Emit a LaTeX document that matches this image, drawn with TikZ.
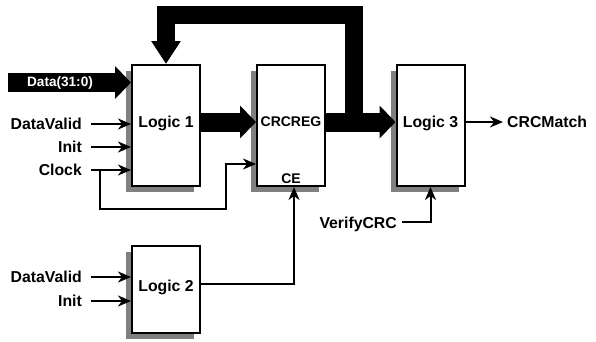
\documentclass[tikz,border=0pt]{standalone}
\usepackage{fontspec}
\setmainfont{Liberation Sans}
\usetikzlibrary{arrows.meta,shadows,positioning}
\tikzstyle{every node}=[font=\bfseries\fontsize{15.8}{18}\selectfont]
\tikzstyle{block}=[draw=black,line width=2pt,fill=white,minimum width=68pt,minimum height=121pt,
  inner sep=0pt,text depth=7pt,drop shadow={shadow xshift=-6pt,shadow yshift=-6pt,fill=black!50,opacity=1}]
\tikzstyle{sig}=[line width=2pt,-{Stealth[length=13pt,width=11pt,inset=4pt]}]
\tikzstyle{bus}=[line width=19pt,-{Triangle[length=16pt,width=32pt]}]
\tikzstyle{pin}=[inner sep=0pt,anchor=east]
\tikzstyle{small}=[font=\bfseries\fontsize{14}{16}\selectfont]

\begin{document}
\begin{tikzpicture}[x=1pt,y=-1pt]
  \useasboundingbox (0,0) rectangle (596,341);
  % blocks
  \node[block] (logic1) at (166,125.5) {Logic 1};
  \node[block,small] (crcreg) at (291,125.5) {CRCREG};
  \node[block] (logic3) at (430.5,125.5) {Logic 3};
  \node[block,minimum height=87pt] (logic2) at (166,289.5) {Logic 2};
  \node[small,inner sep=0pt,above=3pt of crcreg.south] (ce) {CE};

  % data path
  \coordinate (datain) at (8,82.5);
  \draw[bus] (datain) -- (datain -| logic1.west);
  \node[text=white,font=\bfseries\fontsize{13.6}{15}\selectfont] (data) at (60,82.5) {Data(31:0)};
  \draw[bus] ([yshift=3.5pt]logic1.east) -- ([yshift=3.5pt]crcreg.west);
  \draw[bus] ([yshift=3.5pt]crcreg.east) -- ([yshift=3.5pt]logic3.west);
  \coordinate (fb) at ([yshift=3.5pt,xshift=28pt]crcreg.east);
  \draw[bus,line width=18pt,-{Triangle[length=23pt,width=28pt]}]
    (fb) -- (fb |- 0,14.5) -| (logic1.north);

  % control inputs
  \node[pin] (dv1) at (82,124) {DataValid};
  \node[pin] (init1) at (82,147) {Init};
  \node[pin] (clk) at (82,170) {Clock};
  \foreach \n in {dv1,init1,clk}
    \draw[sig,shorten <=9pt] (\n.east) -- (\n -| logic1.west);
  \coordinate (ckjoin) at ([xshift=18pt]clk.east);
  \coordinate (ckin) at ([yshift=-38.5pt]crcreg.west);
  \draw[sig] (ckjoin) |- ++(126,39) |- (ckin);

  \node[pin] (dv2) at (82,277) {DataValid};
  \node[pin] (init2) at (82,301) {Init};
  \foreach \n in {dv2,init2}
    \draw[sig,shorten <=9pt] (\n.east) -- (\n -| logic2.west);
  \draw[sig] ([yshift=6pt]logic2.east) -| ([xshift=3pt]crcreg.south);

  \node[pin] (vcrc) at (397,224.5) {VerifyCRC};
  \draw[sig,shorten <=5pt] ([yshift=2.5pt]vcrc.east) -| (logic3.south);

  \node[pin,anchor=west] (match) at (507,122) {CRCMatch};
  \draw[sig,shorten >=4pt] (logic3.east |- match) -- (match.west);
\end{tikzpicture}
\end{document}
